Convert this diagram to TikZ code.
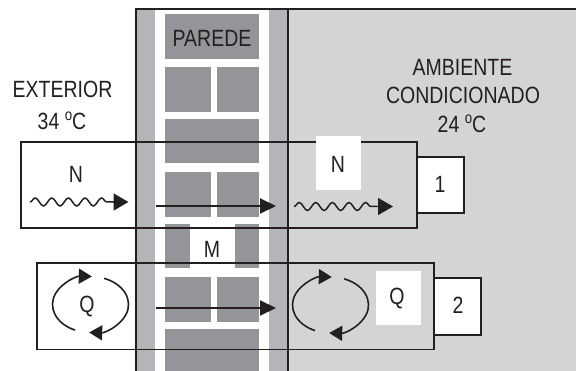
\documentclass[tikz,border=0pt]{standalone}
\usepackage{fontspec}
\setmainfont{Liberation Sans}[FakeStretch=0.83]
\usetikzlibrary{arrows.meta,decorations.pathmorphing}
\definecolor{roomgray}{RGB}{211,212,214}
\definecolor{stripgray}{RGB}{180,181,184}
\definecolor{brickgray}{RGB}{147,149,152}
\definecolor{ink}{RGB}{35,31,32}
\newcommand{\degsup}{\raisebox{9pt}{\fontsize{16}{16}\selectfont o}}
\begin{document}
\begin{tikzpicture}[x=1pt,y=-1pt,
  lbl/.style={anchor=base, inner sep=0pt, text=ink, font=\fontsize{23.5}{28}\selectfont},
  ln/.style={line width=1.7pt, draw=ink},
  brick/.style={fill=brickgray},
  bigarrow/.style={line width=2pt, draw=ink, -{Triangle[length=16pt,width=15pt]}},
  tiparrow/.style={line width=1.5pt, draw=ink, -{Triangle[length=15pt,width=17pt]}},
  wave/.style={line width=1.5pt, draw=ink, decorate, decoration={snake, segment length=16.6pt, amplitude=4pt}},
  circarrow/.style={line width=1.6pt, draw=ink, -{Triangle[length=13pt,width=15pt]}},
  numbox/.style={line width=1.7pt, draw=ink, fill=white}]
\useasboundingbox (0,0) rectangle (576,371);
% room and wall
\fill[roomgray] (288,9) rectangle (576,371);
\fill[stripgray] (136,9) rectangle (155,371);
\fill[stripgray] (269,9) rectangle (288,371);
% bricks
\fill[brick] (165,14) rectangle (259,59);
\fill[brick] (165,67) rectangle (211,112);
\fill[brick] (217,67) rectangle (259,112);
\fill[brick] (165,119) rectangle (259,163);
\fill[brick] (165,172) rectangle (211,217);
\fill[brick] (217,172) rectangle (259,217);
\fill[brick] (165,224) rectangle (190,268);
\fill[brick] (235,224) rectangle (259,268);
\fill[brick] (165,277) rectangle (211,322);
\fill[brick] (217,277) rectangle (259,322);
\fill[brick] (165,329) rectangle (259,371);
% wall outline
\draw[ln] (136,371) -- (136,9) -- (576,9);
\draw[ln] (288,9) -- (288,371);
% boxes
\draw[ln] (21,141.7) rectangle (417,228.3);
\draw[ln] (37,262.7) rectangle (434,349.5);
\fill[white] (316,136) rectangle (361,190);
\fill[white] (376,271) rectangle (421,325);
\draw[numbox] (417,156.7) rectangle (464,213.3);
\draw[numbox] (434,278) rectangle (481,335);
% texts
\node[lbl] (ext) at (62.5,97.5) {EXTERIOR};
\node[lbl] (text) at (62,130) {34 \degsup C};
\node[lbl] (par) at (212,46.5) {PAREDE};
\node[lbl] (amb) at (462.5,76) {AMBIENTE};
\node[lbl] (cond) at (463,104) {CONDICIONADO};
\node[lbl] (tint) at (462,133) {24 \degsup C};
\node[lbl] (n1) at (76,183) {N};
\node[lbl] (n2) at (338,173) {N};
\node[lbl] (m) at (212,258) {M};
\node[lbl] (q1) at (87,313) {Q};
\node[lbl] (q2) at (397,305) {Q};
\node[lbl] (one) at (440,193) {1};
\node[lbl] (two) at (458,314) {2};
% arrows
\coordinate (w1s) at (30,202);
\coordinate (w1e) at (113,202);
\coordinate (w1t) at (128.5,202);
\draw[wave] (w1s) -- (w1e);
\draw[tiparrow] (w1e) -- (w1t);
\coordinate (w2s) at (294,206.5);
\coordinate (w2e) at (377,206.5);
\coordinate (w2t) at (393,206.5);
\draw[wave] (w2s) -- (w2e);
\draw[tiparrow] (w2e) -- (w2t);
\coordinate (a1s) at (156,206);
\coordinate (a1e) at (276,206);
\draw[bigarrow] (a1s) -- (a1e);
\coordinate (a2s) at (156,308);
\coordinate (a2e) at (276,308);
\draw[bigarrow] (a2s) -- (a2e);
% circular arrows
\coordinate (c1) at (90.5,304.5);
\coordinate (c2) at (330.5,305);
\foreach \c in {c1,c2}{
  \draw[circarrow] (\c) ++(114:38 and 28) arc[start angle=114, end angle=272, x radius=38, y radius=28];
  \draw[circarrow] (\c) ++(-69:38 and 28) arc[start angle=-69, end angle=92, x radius=38, y radius=28];
}
\end{tikzpicture}
\end{document}
